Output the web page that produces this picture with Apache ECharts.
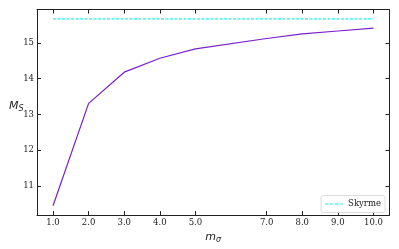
<!DOCTYPE html>
<html><head><meta charset="utf-8">
<script src="https://cdn.jsdelivr.net/npm/echarts@6/dist/echarts.min.js"></script>
<style>html,body{margin:0;padding:0;background:#fff}#c{width:399px;height:249px}</style>
</head><body><div id="c"></div>
<script>
const mSigma = [1, 2, 3, 4, 5, 7, 8, 9, 10];
const mS = [10.45, 13.31, 14.18, 14.57, 14.83, 15.12, 15.25, 15.33, 15.41];
const skyrmeX = [1, 10];
const skyrmeVal = 15.67;
const xTicks = [1, 2, 3, 4, 5, 7, 8, 9, 10];
const yTicks = [11, 12, 13, 14, 15];

const serif = 'DejaVu Serif';
const axisColor = '#222';
const chart = echarts.init(document.getElementById('c'), null, {renderer: 'canvas'});
const baseX = {
  type: 'value', min: 0.55, max: 10.45,
  axisLine: {show: true, onZero: false, lineStyle: {color: axisColor, width: 1}},
  axisTick: {show: true, inside: true, length: 4, customValues: xTicks, lineStyle: {color: axisColor}},
  splitLine: {show: false}
};
const baseY = {
  type: 'value', min: 10.19, max: 15.93,
  axisLine: {show: true, onZero: false, lineStyle: {color: axisColor, width: 1}},
  axisTick: {show: true, inside: true, length: 4, customValues: yTicks, lineStyle: {color: axisColor}},
  splitLine: {show: false}
};
const richName = {
  i: {fontFamily: 'DejaVu Sans', fontStyle: 'italic', fontSize: 11, fill: '#222', color: '#222'},
  s: {fontFamily: 'DejaVu Sans', fontStyle: 'italic', fontSize: 8, fill: '#222', color: '#222', padding: [5, 0, 0, 0]}
};
chart.setOption({
  animation: false,
  grid: {left: 37, right: 9.5, top: 9.5, bottom: 32.5, containLabel: false},
  xAxis: [
    Object.assign({}, baseX, {
      position: 'bottom',
      axisLabel: {show: true, customValues: xTicks, formatter: v => v.toFixed(1), fontFamily: serif, fontSize: 8.5, color: '#222', margin: 3},
      name: '{i|m}{s|σ}', nameLocation: 'middle', nameGap: 14,
      nameTextStyle: {rich: {i: {fontFamily: 'DejaVu Sans', fontStyle: 'italic', fontSize: 11, color: '#222'}, s: {fontFamily: 'DejaVu Sans', fontStyle: 'italic', fontSize: 8, color: '#222', verticalAlign: 'bottom', padding: [5, 0, 0, 0]}}}
    }),
    Object.assign({}, baseX, {position: 'top', axisLabel: {show: false}})
  ],
  yAxis: [
    Object.assign({}, baseY, {
      position: 'left',
      axisLabel: {show: true, customValues: yTicks, formatter: v => String(v), fontFamily: serif, fontSize: 8.5, color: '#222', margin: 3}
    }),
    Object.assign({}, baseY, {position: 'right', axisLabel: {show: false}})
  ],
  graphic: [{
    type: 'text', left: 9, top: 101,
    style: {text: '{i|M}{s|S}', rich: richName}
  }],
  legend: {
    show: true, right: 14, bottom: 36.5, orient: 'vertical',
    data: [{name: 'Skyrme', icon: 'path://M0,0 L4,0 L4,1 L0,1 Z M6,0 L10,0 L10,1 L6,1 Z M12,0 L16,0 L16,1 L12,1 Z M18,0 L22,0 L22,1 L18,1 Z'}],
    itemWidth: 18, itemHeight: 1.5, itemGap: 4,
    textStyle: {fontFamily: serif, fontSize: 8.5, color: '#222'},
    borderColor: '#ddd', borderWidth: 1, borderRadius: 2, padding: [4, 4, 4, 4],
    backgroundColor: 'rgba(255,255,255,0.8)'
  },
  series: [
    {
      type: 'line', name: 'main', data: mSigma.map((x, i) => [x, mS[i]]),
      showSymbol: false, lineStyle: {color: '#7a1fcc', width: 1.2}, itemStyle: {color: '#7a1fcc'}
    },
    {
      type: 'line', name: 'Skyrme', data: skyrmeX.map(x => [x, skyrmeVal]),
      showSymbol: false, lineStyle: {color: '#22f0f0', width: 1.2, type: [3, 1.5]}, itemStyle: {color: '#22f0f0'}
    }
  ]
});
</script></body></html>
